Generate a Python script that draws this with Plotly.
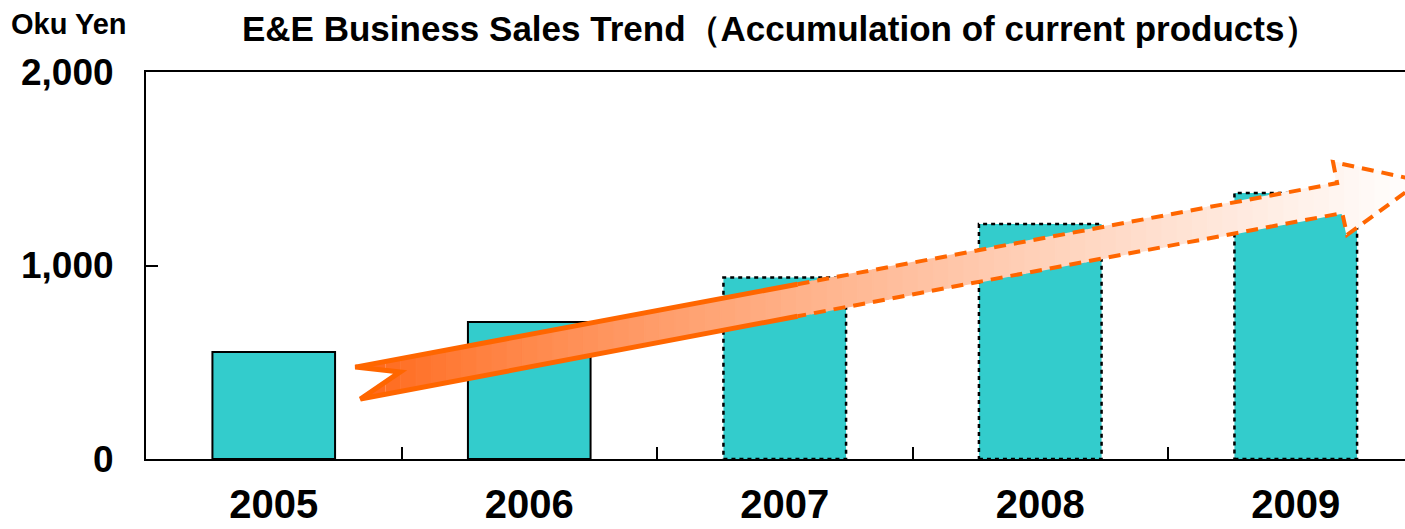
import plotly.graph_objects as go

# ---- data ----
years = ["2005", "2006", "2007", "2008", "2009"]
sales = [553, 708, 938, 1214, 1375]
forecast = [False, False, True, True, True]
y_ticks = [0, 1000, 2000]
y_tick_labels = ["0", "1,000", "2,000"]

title_text = "E&E Business Sales Trend（Accumulation of current products）"
unit_text = "Oku Yen"

BAR_COLOR = "#33CCCC"
ORANGE = "#FF6600"
BAR_W = 0.48

# decorative trend arrow (x in category index units, y in value units)
arrow_upper = [(0.319, 475), (4.162, 1426)]
arrow_lower = [(0.339, 310), (4.182, 1271)]
arrow_notch = (0.495, 450)
arrow_head = [(4.146, 1535), (4.49, 1437), (4.201, 1158)]
solid_until = 2.05

fig = go.Figure()
fig.add_trace(go.Bar(
    x=years, y=sales, width=BAR_W,
    marker=dict(color=BAR_COLOR,
                line=dict(color="black", width=[0 if f else 2 for f in forecast])),
    showlegend=False, hoverinfo="skip",
))

shapes = []
# dotted outlines for forecast bars
for i, (v, f) in enumerate(zip(sales, forecast)):
    if f:
        shapes.append(dict(type="rect", xref="x", yref="y",
                           x0=i - BAR_W / 2, x1=i + BAR_W / 2, y0=0, y1=v,
                           line=dict(color="black", width=2.5, dash="4px,4px"),
                           fillcolor="rgba(0,0,0,0)", layer="above"))

# arrow polygon
poly = [arrow_upper[0], arrow_upper[1], arrow_head[0], arrow_head[1], arrow_head[2],
        arrow_lower[1], arrow_lower[0], arrow_notch]


def clip(polygon, xa, xb):
    def clip_edge(pts, inside, inter):
        out = []
        n = len(pts)
        for k in range(n):
            cur = pts[k]
            prev = pts[k - 1]
            if inside(cur):
                if not inside(prev):
                    out.append(inter(prev, cur))
                out.append(cur)
            elif inside(prev):
                out.append(inter(prev, cur))
        return out

    def inter_x(xc):
        def f(p, q):
            t = (xc - p[0]) / (q[0] - p[0])
            return (xc, p[1] + t * (q[1] - p[1]))
        return f

    pts = clip_edge(polygon, lambda p: p[0] >= xa, inter_x(xa))
    if not pts:
        return []
    pts = clip_edge(pts, lambda p: p[0] <= xb, inter_x(xb))
    return pts


def path_of(pts, close=True):
    s = "M " + " L ".join(f"{x},{y}" for x, y in pts)
    return s + (" Z" if close else "")


x_start = min(p[0] for p in poly)
x_end = max(p[0] for p in poly)
N = 70
c0 = (255, 100, 20)
c1 = (255, 255, 255)
for k in range(N):
    xa = x_start + (x_end - x_start) * k / N
    xb = x_start + (x_end - x_start) * (k + 1) / N
    pts = clip(poly, xa, xb + 1e-6)
    if len(pts) < 3:
        continue
    t = ((xa + xb) / 2 - x_start) / (x_end - x_start)
    t = min(1, t ** 0.8)
    col = tuple(int(round(c0[j] + (c1[j] - c0[j]) * t)) for j in range(3))
    rgb = f"rgb{col}"
    lw = 0 if xa < arrow_notch[0] + 0.01 else 1.5
    shapes.append(dict(type="path", xref="x", yref="y", path=path_of(pts),
                       fillcolor=rgb, line=dict(color=rgb, width=lw), layer="above"))


def on_line(a, b, x):
    t = (x - a[0]) / (b[0] - a[0])
    return (x, a[1] + t * (b[1] - a[1]))


su = on_line(arrow_upper[0], arrow_upper[1], solid_until)
sl = on_line(arrow_lower[0], arrow_lower[1], solid_until)
solid_path = [sl, arrow_lower[0], arrow_notch, arrow_upper[0], su]
dash_path = [su, arrow_upper[1], arrow_head[0], arrow_head[1], arrow_head[2],
             arrow_lower[1], sl]
shapes.append(dict(type="path", xref="x", yref="y", path=path_of(solid_path, False),
                   line=dict(color=ORANGE, width=5), layer="above"))
shapes.append(dict(type="path", xref="x", yref="y", path=path_of(dash_path, False),
                   line=dict(color=ORANGE, width=4, dash="12px,8px"), layer="above"))

fig.update_layout(
    width=1405, height=529,
    margin=dict(l=146, r=0, t=72, b=70, autoexpand=False),
    paper_bgcolor="white", plot_bgcolor="white",
    bargap=0.52,
    shapes=shapes,
    xaxis=dict(
        type="category", range=[-0.5, -0.5 + (1405 - 146) / 255.5],
        showline=True, linecolor="black", linewidth=2, mirror=True,
        ticks="inside", tickson="boundaries", ticklen=12, tickwidth=2, tickcolor="black",
        tickfont=dict(family="Liberation Sans", size=40, color="black", weight="bold"),
        ticklabelstandoff=9, showgrid=False, zeroline=False, automargin=False,
    ),
    yaxis=dict(
        range=[0, 2000], tickvals=y_ticks, ticktext=y_tick_labels,
        showline=True, linecolor="black", linewidth=2,
        ticks="inside", ticklen=12, tickwidth=2, tickcolor="black",
        tickfont=dict(family="Liberation Sans", size=37, color="black", weight="bold"),
        ticklabelstandoff=23, showgrid=False, zeroline=False, automargin=False,
    ),
    annotations=[
        dict(text=title_text, xref="paper", yref="paper", x=(780 - 146) / 1259, y=1,
             yshift=44, xanchor="center", yanchor="middle", showarrow=False,
             font=dict(family="Liberation Sans", size=35,
                       color="black", weight="bold")),
        dict(text=unit_text, xref="paper", yref="paper", x=(69 - 146) / 1259,
             y=1, yshift=48, xanchor="center", yanchor="middle", showarrow=False,
             font=dict(family="Liberation Sans", size=29,
                       color="black", weight="bold")),
    ],
)

fig.write_html(
    "out.html",
    config={"displayModeBar": False},
    post_script="document.body.style.margin='0px';document.body.style.overflow='hidden';",
)
